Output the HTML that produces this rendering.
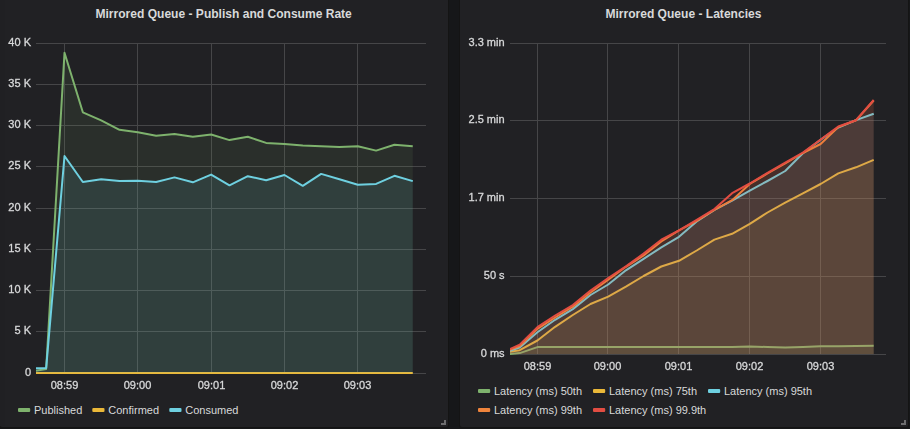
<!DOCTYPE html>
<html><head><meta charset="utf-8"><style>
html,body{margin:0;padding:0;background:#161719;width:910px;height:429px;overflow:hidden}
svg{display:block;position:absolute;left:0;top:0}
text{font-family:"Liberation Sans",sans-serif}
</style></head><body>
<svg width="910" height="429" viewBox="0 0 910 429">
<defs>
<clipPath id="c1"><rect x="36" y="40" width="390" height="336"/></clipPath>
<clipPath id="c2"><rect x="510" y="40" width="376" height="316"/></clipPath>
</defs>
<rect x="0" y="0" width="910" height="429" fill="#161719"/>
<rect x="-1" y="-10" width="450" height="438" rx="3" fill="#141414"/>
<rect x="0" y="-9" width="448" height="436" rx="2" fill="#212124"/>
<rect x="0" y="0" width="5" height="426" fill="#202023"/>
<rect x="459" y="-10" width="450" height="438" rx="3" fill="#141414"/>
<rect x="460" y="-9" width="448" height="436" rx="2" fill="#212124"/>
<g stroke="#464648" stroke-width="1"><line x1="36" y1="43.5" x2="426" y2="43.5"/><line x1="36" y1="84.5" x2="426" y2="84.5"/><line x1="36" y1="125.5" x2="426" y2="125.5"/><line x1="36" y1="166.5" x2="426" y2="166.5"/><line x1="36" y1="208.5" x2="426" y2="208.5"/><line x1="36" y1="249.5" x2="426" y2="249.5"/><line x1="36" y1="290.5" x2="426" y2="290.5"/><line x1="36" y1="331.5" x2="426" y2="331.5"/><line x1="36" y1="373.5" x2="426" y2="373.5"/><line x1="64.5" y1="43" x2="64.5" y2="374"/><line x1="137.5" y1="43" x2="137.5" y2="374"/><line x1="211.5" y1="43" x2="211.5" y2="374"/><line x1="284.5" y1="43" x2="284.5" y2="374"/><line x1="357.5" y1="43" x2="357.5" y2="374"/><line x1="510" y1="43.5" x2="886" y2="43.5"/><line x1="510" y1="120.5" x2="886" y2="120.5"/><line x1="510" y1="198.5" x2="886" y2="198.5"/><line x1="510" y1="276.5" x2="886" y2="276.5"/><line x1="510" y1="354.5" x2="886" y2="354.5"/><line x1="537.5" y1="43" x2="537.5" y2="355"/><line x1="607.5" y1="43" x2="607.5" y2="355"/><line x1="678.5" y1="43" x2="678.5" y2="355"/><line x1="749.5" y1="43" x2="749.5" y2="355"/><line x1="820.5" y1="43" x2="820.5" y2="355"/></g>
<path d="M27.84,373 L27.84,372.30 L46.17,369.00 L64.50,52.80 L82.83,112.30 L101.16,120.40 L119.49,129.80 L137.82,132.20 L156.15,135.70 L174.48,134.00 L192.81,136.80 L211.14,134.50 L229.47,140.10 L247.80,136.80 L266.13,142.90 L284.46,144.00 L302.79,145.60 L321.12,146.20 L339.45,146.90 L357.78,146.20 L376.11,150.60 L394.44,144.80 L412.77,146.20 L412.77,373 Z" fill="#7EB26D" fill-opacity="0.1" clip-path="url(#c1)"/>
<polyline points="27.84,372.30 46.17,369.00 64.50,52.80 82.83,112.30 101.16,120.40 119.49,129.80 137.82,132.20 156.15,135.70 174.48,134.00 192.81,136.80 211.14,134.50 229.47,140.10 247.80,136.80 266.13,142.90 284.46,144.00 302.79,145.60 321.12,146.20 339.45,146.90 357.78,146.20 376.11,150.60 394.44,144.80 412.77,146.20" fill="none" stroke="#7EB26D" stroke-width="2" stroke-linejoin="round" clip-path="url(#c1)"/>
<path d="M27.84,373 L27.84,373.00 L46.17,373.00 L64.50,373.00 L82.83,373.00 L101.16,373.00 L119.49,373.00 L137.82,373.00 L156.15,373.00 L174.48,373.00 L192.81,373.00 L211.14,373.00 L229.47,373.00 L247.80,373.00 L266.13,373.00 L284.46,373.00 L302.79,373.00 L321.12,373.00 L339.45,373.00 L357.78,373.00 L376.11,373.00 L394.44,373.00 L412.77,373.00 L412.77,373 Z" fill="#EAB839" fill-opacity="0.1" clip-path="url(#c1)"/>
<polyline points="27.84,373.00 46.17,373.00 64.50,373.00 82.83,373.00 101.16,373.00 119.49,373.00 137.82,373.00 156.15,373.00 174.48,373.00 192.81,373.00 211.14,373.00 229.47,373.00 247.80,373.00 266.13,373.00 284.46,373.00 302.79,373.00 321.12,373.00 339.45,373.00 357.78,373.00 376.11,373.00 394.44,373.00 412.77,373.00" fill="none" stroke="#EAB839" stroke-width="2" stroke-linejoin="round" clip-path="url(#c1)"/>
<path d="M27.84,373 L27.84,368.40 L46.17,367.90 L64.50,156.00 L82.83,182.00 L101.16,179.30 L119.49,180.90 L137.82,180.70 L156.15,182.00 L174.48,177.40 L192.81,182.30 L211.14,174.60 L229.47,185.30 L247.80,176.20 L266.13,180.20 L284.46,175.00 L302.79,185.80 L321.12,173.90 L339.45,179.30 L357.78,184.80 L376.11,183.90 L394.44,175.80 L412.77,181.10 L412.77,373 Z" fill="#6ED0E0" fill-opacity="0.1" clip-path="url(#c1)"/>
<polyline points="27.84,368.40 46.17,367.90 64.50,156.00 82.83,182.00 101.16,179.30 119.49,180.90 137.82,180.70 156.15,182.00 174.48,177.40 192.81,182.30 211.14,174.60 229.47,185.30 247.80,176.20 266.13,180.20 284.46,175.00 302.79,185.80 321.12,173.90 339.45,179.30 357.78,184.80 376.11,183.90 394.44,175.80 412.77,181.10" fill="none" stroke="#6ED0E0" stroke-width="2" stroke-linejoin="round" clip-path="url(#c1)"/>
<path d="M502.00,354 L502.00,354.70 L519.70,353.10 L537.40,347.10 L555.10,347.10 L572.80,347.00 L590.50,347.00 L608.20,347.00 L625.90,347.00 L643.60,347.00 L661.30,347.00 L679.00,347.00 L696.70,347.00 L714.40,347.00 L732.10,347.00 L749.80,346.50 L767.50,347.00 L785.20,347.60 L802.90,347.00 L820.60,346.30 L838.30,346.30 L856.00,346.00 L873.70,345.80 L873.70,354 Z" fill="#7EB26D" fill-opacity="0.1" clip-path="url(#c2)"/>
<polyline points="502.00,354.70 519.70,353.10 537.40,347.10 555.10,347.10 572.80,347.00 590.50,347.00 608.20,347.00 625.90,347.00 643.60,347.00 661.30,347.00 679.00,347.00 696.70,347.00 714.40,347.00 732.10,347.00 749.80,346.50 767.50,347.00 785.20,347.60 802.90,347.00 820.60,346.30 838.30,346.30 856.00,346.00 873.70,345.80" fill="none" stroke="#7EB26D" stroke-width="2" stroke-linejoin="round" clip-path="url(#c2)"/>
<path d="M502.00,354 L502.00,353.10 L519.70,350.20 L537.40,340.50 L555.10,326.80 L572.80,315.00 L590.50,304.00 L608.20,296.60 L625.90,286.70 L643.60,276.00 L661.30,266.50 L679.00,260.80 L696.70,250.50 L714.40,239.60 L732.10,233.80 L749.80,223.90 L767.50,212.50 L785.20,202.60 L802.90,193.30 L820.60,184.00 L838.30,173.40 L856.00,167.30 L873.70,159.90 L873.70,354 Z" fill="#EAB839" fill-opacity="0.1" clip-path="url(#c2)"/>
<polyline points="502.00,353.10 519.70,350.20 537.40,340.50 555.10,326.80 572.80,315.00 590.50,304.00 608.20,296.60 625.90,286.70 643.60,276.00 661.30,266.50 679.00,260.80 696.70,250.50 714.40,239.60 732.10,233.80 749.80,223.90 767.50,212.50 785.20,202.60 802.90,193.30 820.60,184.00 838.30,173.40 856.00,167.30 873.70,159.90" fill="none" stroke="#EAB839" stroke-width="2" stroke-linejoin="round" clip-path="url(#c2)"/>
<path d="M502.00,354 L502.00,353.50 L519.70,347.50 L537.40,332.20 L555.10,319.80 L572.80,309.10 L590.50,295.00 L608.20,284.50 L625.90,270.30 L643.60,258.90 L661.30,247.30 L679.00,236.80 L696.70,221.50 L714.40,209.90 L732.10,200.60 L749.80,190.60 L767.50,181.00 L785.20,171.00 L802.90,153.20 L820.60,139.80 L838.30,127.50 L856.00,120.10 L873.70,113.80 L873.70,354 Z" fill="#6ED0E0" fill-opacity="0.1" clip-path="url(#c2)"/>
<polyline points="502.00,353.50 519.70,347.50 537.40,332.20 555.10,319.80 572.80,309.10 590.50,295.00 608.20,284.50 625.90,270.30 643.60,258.90 661.30,247.30 679.00,236.80 696.70,221.50 714.40,209.90 732.10,200.60 749.80,190.60 767.50,181.00 785.20,171.00 802.90,153.20 820.60,139.80 838.30,127.50 856.00,120.10 873.70,113.80" fill="none" stroke="#6ED0E0" stroke-width="2" stroke-linejoin="round" clip-path="url(#c2)"/>
<path d="M502.00,354 L502.00,352.60 L519.70,346.10 L537.40,328.90 L555.10,317.50 L572.80,306.60 L590.50,292.50 L608.20,279.70 L625.90,266.80 L643.60,255.40 L661.30,241.40 L679.00,230.40 L696.70,220.80 L714.40,209.80 L732.10,200.20 L749.80,183.90 L767.50,173.50 L785.20,163.50 L802.90,153.00 L820.60,144.00 L838.30,127.10 L856.00,120.30 L873.70,100.50 L873.70,354 Z" fill="#EF843C" fill-opacity="0.1" clip-path="url(#c2)"/>
<polyline points="502.00,352.60 519.70,346.10 537.40,328.90 555.10,317.50 572.80,306.60 590.50,292.50 608.20,279.70 625.90,266.80 643.60,255.40 661.30,241.40 679.00,230.40 696.70,220.80 714.40,209.80 732.10,200.20 749.80,183.90 767.50,173.50 785.20,163.50 802.90,153.00 820.60,144.00 838.30,127.10 856.00,120.30 873.70,100.50" fill="none" stroke="#EF843C" stroke-width="2" stroke-linejoin="round" clip-path="url(#c2)"/>
<path d="M502.00,354 L502.00,352.60 L519.70,344.60 L537.40,327.20 L555.10,315.50 L572.80,305.10 L590.50,290.60 L608.20,278.00 L625.90,266.40 L643.60,253.60 L661.30,239.70 L679.00,230.30 L696.70,219.90 L714.40,209.10 L732.10,193.20 L749.80,183.50 L767.50,172.80 L785.20,162.70 L802.90,152.50 L820.60,139.60 L838.30,126.50 L856.00,120.20 L873.70,100.00 L873.70,354 Z" fill="#E24D42" fill-opacity="0.1" clip-path="url(#c2)"/>
<polyline points="502.00,352.60 519.70,344.60 537.40,327.20 555.10,315.50 572.80,305.10 590.50,290.60 608.20,278.00 625.90,266.40 643.60,253.60 661.30,239.70 679.00,230.30 696.70,219.90 714.40,209.10 732.10,193.20 749.80,183.50 767.50,172.80 785.20,162.70 802.90,152.50 820.60,139.60 838.30,126.50 856.00,120.20 873.70,100.00" fill="none" stroke="#E24D42" stroke-width="2" stroke-linejoin="round" clip-path="url(#c2)"/>
<g fill="#d8d9da" font-size="12.05" font-weight="bold" text-anchor="middle"><text x="223.65" y="17.8">Mirrored Queue - Publish and Consume Rate</text><text x="683.4" y="17.8">Mirrored Queue - Latencies</text></g>
<g fill="#d8d9da" font-size="11"><rect x="18" y="408" width="12.2" height="4" rx="1.1" fill="#7EB26D"/><text x="34" y="414">Published</text><rect x="92.3" y="408" width="12.2" height="4" rx="1.1" fill="#EAB839"/><text x="108.3" y="414">Confirmed</text><rect x="169.3" y="408" width="12.2" height="4" rx="1.1" fill="#6ED0E0"/><text x="185.3" y="414">Consumed</text><rect x="478" y="389" width="12.2" height="4" rx="1.1" fill="#7EB26D"/><text x="494" y="395">Latency (ms) 50th</text><rect x="593" y="389" width="12.2" height="4" rx="1.1" fill="#EAB839"/><text x="609" y="395">Latency (ms) 75th</text><rect x="708" y="389" width="12.2" height="4" rx="1.1" fill="#6ED0E0"/><text x="724" y="395">Latency (ms) 95th</text><rect x="478" y="408" width="12.2" height="4" rx="1.1" fill="#EF843C"/><text x="494" y="414">Latency (ms) 99th</text><rect x="593" y="408" width="12.2" height="4" rx="1.1" fill="#E24D42"/><text x="609" y="414">Latency (ms) 99.9th</text></g>
<path d="M444,420 h2 v5 h-5 v-2 h3 z" fill="#6e6e70"/>
<path d="M904,420 h2 v5 h-5 v-2 h3 z" fill="#6e6e70"/>
</svg>
<svg width="910" height="429" viewBox="0 0 910 429" style="position:absolute;left:0;top:0;will-change:transform"><g fill="#d8d9da" stroke="#d8d9da" stroke-width="0.3" font-size="11"><text x="31" y="45.8" text-anchor="end">40 K</text><text x="31" y="86.8" text-anchor="end">35 K</text><text x="31" y="127.8" text-anchor="end">30 K</text><text x="31" y="168.8" text-anchor="end">25 K</text><text x="31" y="210.8" text-anchor="end">20 K</text><text x="31" y="251.8" text-anchor="end">15 K</text><text x="31" y="292.8" text-anchor="end">10 K</text><text x="31" y="333.8" text-anchor="end">5 K</text><text x="31" y="375.8" text-anchor="end">0</text><text x="64.5" y="389.1" text-anchor="middle">08:59</text><text x="137.5" y="389.1" text-anchor="middle">09:00</text><text x="211.5" y="389.1" text-anchor="middle">09:01</text><text x="284.5" y="389.1" text-anchor="middle">09:02</text><text x="357.5" y="389.1" text-anchor="middle">09:03</text><text x="504.6" y="46.3" text-anchor="end">3.3 min</text><text x="504.6" y="123.3" text-anchor="end">2.5 min</text><text x="504.6" y="201.3" text-anchor="end">1.7 min</text><text x="504.6" y="279.3" text-anchor="end">50 s</text><text x="504.6" y="357.3" text-anchor="end">0 ms</text><text x="537.5" y="369.9" text-anchor="middle">08:59</text><text x="607.5" y="369.9" text-anchor="middle">09:00</text><text x="678.5" y="369.9" text-anchor="middle">09:01</text><text x="749.5" y="369.9" text-anchor="middle">09:02</text><text x="820.5" y="369.9" text-anchor="middle">09:03</text></g></svg>
</body></html>
